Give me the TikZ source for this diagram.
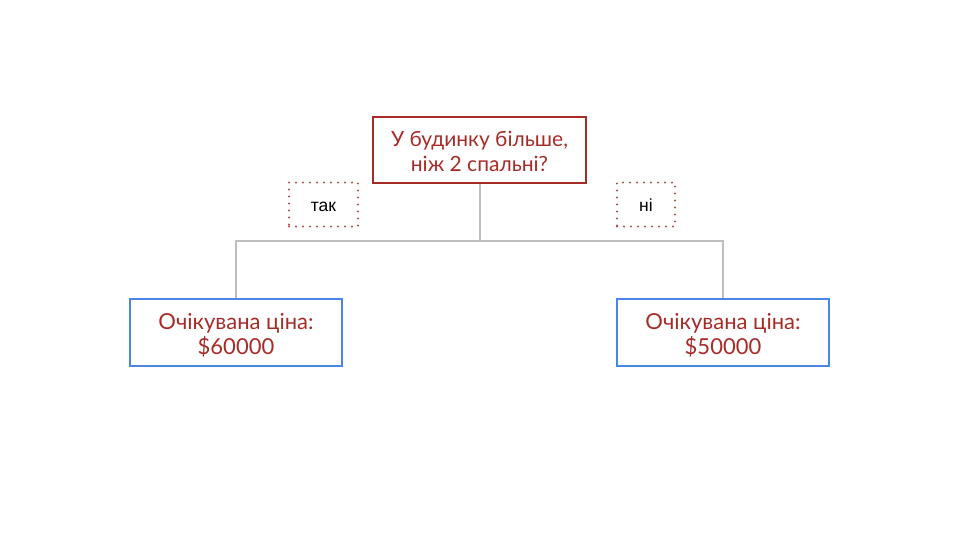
\documentclass[tikz,border=0pt]{standalone}
\usepackage{fontspec}
\setmainfont{Lato}
\newfontfamily\labelfont{Liberation Sans}
\definecolor{qred}{RGB}{166,44,40}
\definecolor{leafblue}{RGB}{74,134,232}
\definecolor{edgegray}{RGB}{190,190,190}
\definecolor{dotred}{RGB}{170,80,70}

\begin{document}
\begin{tikzpicture}[x=1pt, y=-1pt,
    question/.style={draw=qred, line width=2pt, text=qred, align=center,
        minimum width=213pt, minimum height=66pt, text height=43pt, text depth=0pt,
        font=\fontsize{21}{25}\selectfont},
    leaf/.style={draw=leafblue, line width=2pt, text=qred, align=center,
        minimum width=212pt, minimum height=67pt, text height=43pt, text depth=0pt,
        font=\fontsize{22}{25}\selectfont},
    answer/.style={draw=dotred, line width=2.2pt, line cap=round, dash pattern=on 0pt off 7pt,
        text=black, minimum height=44pt, text height=13pt, text depth=0pt,
        font=\labelfont\fontsize{17.5}{20}\selectfont},
    edge/.style={draw=edgegray, line width=2pt}]
    \useasboundingbox (0,0) rectangle (960,540);

    % Question
    \node[question] (q) at (479.5,150) {У будинку більше,\\ніж 2 спальні?};

    % Answers
    \node[answer, minimum width=69pt] (yes) at (323.5,204.5) {так};
    \node[answer, minimum width=58pt] (no) at (646,204.5) {ні};

    % Leaves
    \node[leaf] (left) at (236,332.5) {Очікувана ціна:\\\$60000};
    \node[leaf] (right) at (723,332.5) {Очікувана ціна:\\\$50000};

    % Branches
    \coordinate (split) at (479.5,241);
    \draw[edge] (q.south) -- (split);
    \draw[edge] (left.north) |- (split) -| (right.north);
\end{tikzpicture}
\end{document}
